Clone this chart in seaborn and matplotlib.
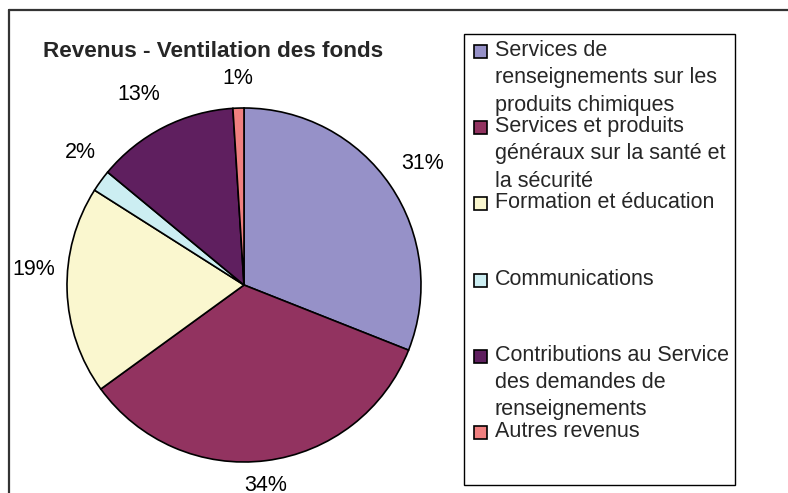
import numpy as np
import matplotlib
matplotlib.use("Agg")
import matplotlib.pyplot as plt
from matplotlib.lines import Line2D
from matplotlib.patches import Rectangle
import seaborn as sns

# données du graphique
categories = [
    "Services de\nrenseignements sur les\nproduits chimiques",
    "Services et produits\ngénéraux sur la santé et\nla sécurité",
    "Formation et éducation",
    "Communications",
    "Contributions au Service\ndes demandes de\nrenseignements",
    "Autres revenus",
]
percentages = [31, 34, 19, 2, 13, 1]
colors = ["#9691C8", "#923360", "#FAF7CF", "#CCEEF2", "#5F1F5F", "#F08080"]
title = "Revenus - Ventilation des fonds"

sns.set_theme(style="white")
plt.rcParams["font.family"] = ["Liberation Sans", "DejaVu Sans"]

W, H = 788, 493
fig = plt.figure(figsize=(W / 100, H / 100), dpi=100)
fig.patch.set_facecolor("white")


def fx(px):
    return px / W


def fy(py):
    return 1 - py / H


# cadre extérieur (haut et gauche seulement visibles)
fig.add_artist(Line2D([fx(9), 1], [fy(10), fy(10)], transform=fig.transFigure,
                      color="#333333", lw=1.6))
fig.add_artist(Line2D([fx(9), fx(9)], [fy(10), 0], transform=fig.transFigure,
                      color="#333333", lw=1.6))

# camembert
cx, cy, r = 244, 285, 177
ax = fig.add_axes([fx(cx - r), fy(cy + r), 2 * r / W, 2 * r / H])
wedges, _ = ax.pie(percentages, colors=colors, startangle=90, counterclock=False,
                   radius=1, wedgeprops=dict(edgecolor="black", linewidth=1.2))
ax.set_xlim(-1, 1)
ax.set_ylim(-1, 1)
ax.set_aspect("equal")
ax.axis("off")

# étiquettes de pourcentage
label_dist = [1.22, 1.14, 1.19, 1.19, 1.23, 1.17]
angle_nudge = [0, -1, -6, -3, 2, 0]
for w, pct, d, da in zip(wedges, percentages, label_dist, angle_nudge):
    ang = np.deg2rad((w.theta1 + w.theta2) / 2 + da)
    ax.text(d * np.cos(ang), d * np.sin(ang), f"{pct}%", ha="center", va="center",
            fontsize=15.5, color="black", clip_on=False)

fig.text(fx(43), fy(57), title, fontsize=16.2, fontweight="bold",
         ha="left", va="baseline")

# légende
fig.add_artist(Rectangle((fx(464), fy(485)), fx(735 - 464), (485 - 34) / H,
                         transform=fig.transFigure, facecolor="white",
                         edgecolor="black", lw=1.0))
for i, (lab, col) in enumerate(zip(categories, colors)):
    base = 56 + i * 76.2
    fig.add_artist(Rectangle((fx(474), fy(base + 2)), 13 / W, 13 / H,
                             transform=fig.transFigure, facecolor=col,
                             edgecolor="black", lw=1.2))
    for j, line in enumerate(lab.split("\n")):
        fig.text(fx(495), fy(base + j * 27.3), line, fontsize=15.5,
                 ha="left", va="baseline")

fig.savefig("out.png", dpi=100)
